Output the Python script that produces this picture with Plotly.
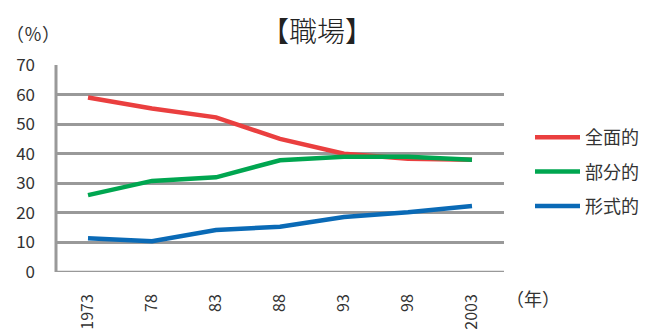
import plotly.graph_objects as go

years = ["1973", "78", "83", "88", "93", "98", "2003"]
zenmen = [59, 55.3, 52.3, 45, 40, 38.3, 38]
bubun = [26, 30.8, 32, 37.8, 39, 39, 38]
keishiki = [11.4, 10.4, 14.2, 15.3, 18.6, 20.2, 22.3]
names = ["全面的", "部分的", "形式的"]
colors = ["#ea3f3f", "#00a650", "#0a6ab6"]
y_ticks = [0, 10, 20, 30, 40, 50, 60, 70]

FONT = "Noto Sans CJK JP"
L, R, T, B = 56, 142, 65, 59
W, H = 646, 331
PW, PH = W - L - R, H - T - B

fig = go.Figure()
for i, (vals, nm, col) in enumerate(zip([zenmen, bubun, keishiki], names, colors)):
    fig.add_trace(go.Scatter(x=years, y=vals, name=nm, mode="lines",
                             line=dict(color=col, width=4.5), legendgroup=str(i)))

def px_x(x):
    return (x - L) / PW

def px_y(y):
    return (H - B - y) / PH

fig.update_layout(
    width=W, height=H,
    margin=dict(l=L, r=R, t=T, b=B, autoexpand=False),
    paper_bgcolor="white", plot_bgcolor="white",
    font=dict(family=FONT, color="#333333", size=17),
    title=dict(text="【職場】", x=317 / W, xanchor="center", y=1 - 32 / H, yanchor="middle",
               font=dict(size=28, color="#222222", family=FONT, weight=300)),
    showlegend=True,
    legend=dict(x=px_x(530), xanchor="left", y=px_y(119), yanchor="top", tracegroupgap=8,
                itemwidth=45,
                font=dict(size=18, color="#333333", family=FONT), bgcolor="rgba(0,0,0,0)"),
    xaxis=dict(type="category", range=[-0.5, 6.5], showgrid=False, tickangle=-90,
               ticks="", ticklabelstandoff=18, tickfont=dict(size=16, color="#333333"),
               showline=False, zeroline=False, automargin=False),
    yaxis=dict(range=[0, 70], tickvals=y_ticks, showgrid=True, gridcolor="#999999", gridwidth=2.5,
               zeroline=False, showline=False, ticks="", ticklabelstandoff=20, automargin=False,
               tickfont=dict(size=17, color="#333333")),
    annotations=[
        dict(text="（％）", xref="paper", yref="paper", x=px_x(4), y=px_y(33),
             showarrow=False, xanchor="left", yanchor="middle", font=dict(size=18, color="#333333")),
        dict(text="（年）", xref="paper", yref="paper", x=px_x(504), y=px_y(298),
             showarrow=False, xanchor="left", yanchor="middle", font=dict(size=18, color="#333333")),
    ],
)

fig.add_shape(type="line", xref="paper", yref="paper", x0=0, x1=0, y0=0, y1=1,
              line=dict(color="#999999", width=3))
fig.add_shape(type="line", xref="paper", yref="y", x0=0, x1=1, y0=0, y1=0,
              line=dict(color="#999999", width=2.5))

fig.write_html("out.html")
